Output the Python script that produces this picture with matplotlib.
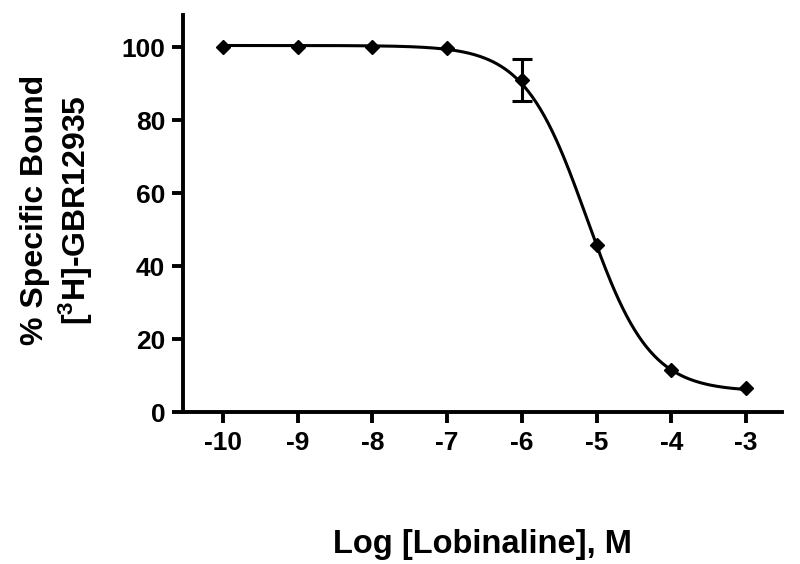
import numpy as np
import matplotlib
matplotlib.use('Agg')
import matplotlib.pyplot as plt

#%% Data
log_conc = [-10, -9, -8, -7, -6, -5, -4, -3]
pct_bound = [100.1, 100.1, 100.0, 99.8, 91.0, 45.8, 11.6, 6.5]
sem = [0, 0, 0, 0, 5.7, 0, 0, 0]

# four-parameter logistic fit as drawn in the figure
fit_top = 100.5
fit_bottom = 5.6
fit_logic50 = -5.13
fit_hill = 1.04

#%% Style
plt.rcParams['font.family'] = ['Liberation Sans', 'DejaVu Sans']
plt.rcParams['font.weight'] = 'bold'
plt.rcParams['mathtext.default'] = 'regular'
plt.rcParams['axes.unicode_minus'] = False

fig = plt.figure(figsize=(8, 5.64), dpi=100)
ax = fig.add_axes([0.229, 0.2695, 0.7485, 0.7035])

#%% Curve + points
xfit = np.linspace(-10, -3, 400)
yfit = fit_bottom + (fit_top - fit_bottom) / (1 + 10 ** (fit_hill * (xfit - fit_logic50)))
ax.plot(xfit, yfit, color='black', lw=2.2)

ax.plot(log_conc, pct_bound, 'D', color='black', ms=7.5)
# only points with an error bar
eb_x = [x for x, e in zip(log_conc, sem) if e > 0]
eb_y = [y for y, e in zip(pct_bound, sem) if e > 0]
eb_e = [e for e in sem if e > 0]
ax.errorbar(eb_x, eb_y, yerr=eb_e, fmt='none', ecolor='black',
            elinewidth=2.2, capsize=7, capthick=2.2)

#%% Axes
ax.set_xlim(-10.53, -2.52)
ax.set_ylim(0, 108.8)
ax.set_xticks(log_conc)
ax.set_yticks([0, 20, 40, 60, 80, 100])
for s in ['top', 'right']:
    ax.spines[s].set_visible(False)
for s in ['left', 'bottom']:
    ax.spines[s].set_linewidth(2.8)
ax.tick_params(width=2.8, length=8, labelsize=19, pad=5)
ax.tick_params(axis='x', pad=6)

ax.set_xlabel('Log [Lobinaline], M', fontsize=23.5, fontweight='bold', va='center')
ax.xaxis.set_label_coords(0.5, -0.335)
ax.set_ylabel('% Specific Bound\n[$^{3}$H]-GBR12935', fontsize=23,
              fontweight='bold', linespacing=1.25, va='center')
ax.yaxis.set_label_coords(-0.21, 0.51)

fig.savefig('out.png', dpi=100)
